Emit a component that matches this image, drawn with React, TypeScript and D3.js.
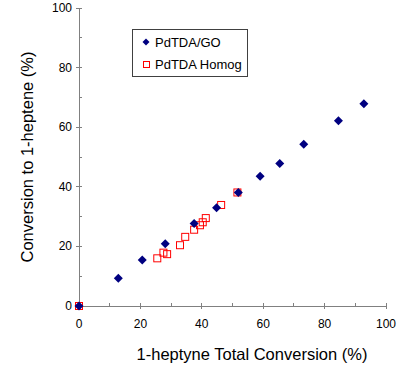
import { useEffect, useRef } from "react";
import * as d3 from "d3";

// PdTDA/GO (navy diamonds)
const goX = [0, 12.8, 20.6, 28.1, 37.5, 44.8, 51.9, 59.0, 65.4, 73.2, 84.5, 92.8];
const goY = [0, 9.3, 15.4, 20.9, 27.7, 33.0, 38.1, 43.5, 47.8, 54.3, 62.2, 67.9];

// PdTDA Homog (open red squares)
const homX = [0, 25.5, 27.5, 28.7, 32.9, 34.6, 37.5, 39.4, 40.3, 41.3, 46.3, 51.6];
const homY = [0, 16.0, 17.9, 17.4, 20.4, 23.2, 25.6, 27.1, 28.1, 29.5, 33.9, 38.1];

const majorTicks = [0, 20, 40, 60, 80, 100];
const minorTicks = [10, 30, 50, 70, 90];

const W = 405;
const H = 372;
const font = "'Liberation Sans', Arial, sans-serif";

export default function App() {
  const ref = useRef<SVGSVGElement>(null);

  useEffect(() => {
    if (!ref.current) return;
    const svg = d3.select(ref.current);
    svg.selectAll("*").remove();

    const x = d3.scaleLinear().domain([0, 100]).range([79, 386]);
    const y = d3.scaleLinear().domain([0, 100]).range([306, 8]);
    const axisColor = "#808080";

    const ax = svg.append("g").attr("shape-rendering", "crispEdges");

    // axis lines
    ax.append("line")
      .attr("x1", x(0)).attr("x2", x(100))
      .attr("y1", y(0)).attr("y2", y(0))
      .attr("stroke", axisColor);
    ax.append("line")
      .attr("x1", x(0)).attr("x2", x(0))
      .attr("y1", y(0)).attr("y2", y(100))
      .attr("stroke", axisColor);

    // x ticks
    ax.selectAll(".xmaj").data(majorTicks).join("line")
      .attr("x1", (d) => x(d)).attr("x2", (d) => x(d))
      .attr("y1", y(0) - 3).attr("y2", y(0) + 3)
      .attr("stroke", axisColor);
    ax.selectAll(".xmin").data(minorTicks).join("line")
      .attr("x1", (d) => x(d)).attr("x2", (d) => x(d))
      .attr("y1", y(0) - 3).attr("y2", y(0))
      .attr("stroke", axisColor);
    // y ticks
    ax.selectAll(".ymaj").data(majorTicks).join("line")
      .attr("x1", x(0) - 3).attr("x2", x(0) + 3)
      .attr("y1", (d) => y(d)).attr("y2", (d) => y(d))
      .attr("stroke", axisColor);
    ax.selectAll(".ymin").data(minorTicks).join("line")
      .attr("x1", x(0)).attr("x2", x(0) + 3)
      .attr("y1", (d) => y(d)).attr("y2", (d) => y(d))
      .attr("stroke", axisColor);

    // tick labels
    svg.append("g").selectAll("text").data(majorTicks).join("text")
      .attr("x", (d) => x(d)).attr("y", y(0) + 22)
      .attr("text-anchor", "middle")
      .attr("font-family", font).attr("font-size", 12)
      .text((d) => d);
    svg.append("g").selectAll("text").data(majorTicks).join("text")
      .attr("x", x(0) - 7).attr("y", (d) => y(d) + 4)
      .attr("text-anchor", "end")
      .attr("font-family", font).attr("font-size", 12)
      .text((d) => d);

    // axis titles
    svg.append("text")
      .attr("x", 252).attr("y", 360)
      .attr("text-anchor", "middle")
      .attr("font-family", font).attr("font-size", 16.5)
      .text("1-heptyne Total Conversion (%)");
    svg.append("text")
      .attr("transform", `translate(33,157) rotate(-90)`)
      .attr("text-anchor", "middle")
      .attr("font-family", font).attr("font-size", 16.5)
      .text("Conversion to 1-heptene (%)");

    const diamond = "M0,-4.5L4.5,0L0,4.5L-4.5,0Z";

    // red squares (drawn first)
    svg.append("g").selectAll("rect").data(homX).join("rect")
      .attr("x", (d) => x(d) - 3.5)
      .attr("y", (_, i) => y(homY[i]) - 3.5)
      .attr("width", 7).attr("height", 7)
      .attr("fill", "none").attr("stroke", "#ff0000").attr("stroke-width", 1);

    // navy diamonds
    svg.append("g").selectAll("path").data(goX).join("path")
      .attr("d", diamond)
      .attr("transform", (d, i) => `translate(${x(d)},${y(goY[i])})`)
      .attr("fill", "#000080");

    // legend
    const lg = svg.append("g");
    lg.append("rect")
      .attr("x", 132.5).attr("y", 29.5).attr("width", 115).attr("height", 47)
      .attr("fill", "white").attr("stroke", "#404040").attr("stroke-width", 1);
    lg.append("path").attr("d", "M0,-3.5L3.5,0L0,3.5L-3.5,0Z")
      .attr("transform", "translate(146,42)").attr("fill", "#000080");
    lg.append("rect")
      .attr("x", 143.5).attr("y", 61.5).attr("width", 6).attr("height", 6)
      .attr("fill", "none").attr("stroke", "#ff0000");
    lg.append("text").attr("x", 155).attr("y", 47)
      .attr("font-family", font).attr("font-size", 13).text("PdTDA/GO");
    lg.append("text").attr("x", 155).attr("y", 69)
      .attr("font-family", font).attr("font-size", 13).text("PdTDA Homog");
  }, []);

  return (
    <svg
      ref={ref}
      width={W}
      height={H}
      style={{ position: "absolute", left: 0, top: 0, background: "white" }}
    />
  );
}
